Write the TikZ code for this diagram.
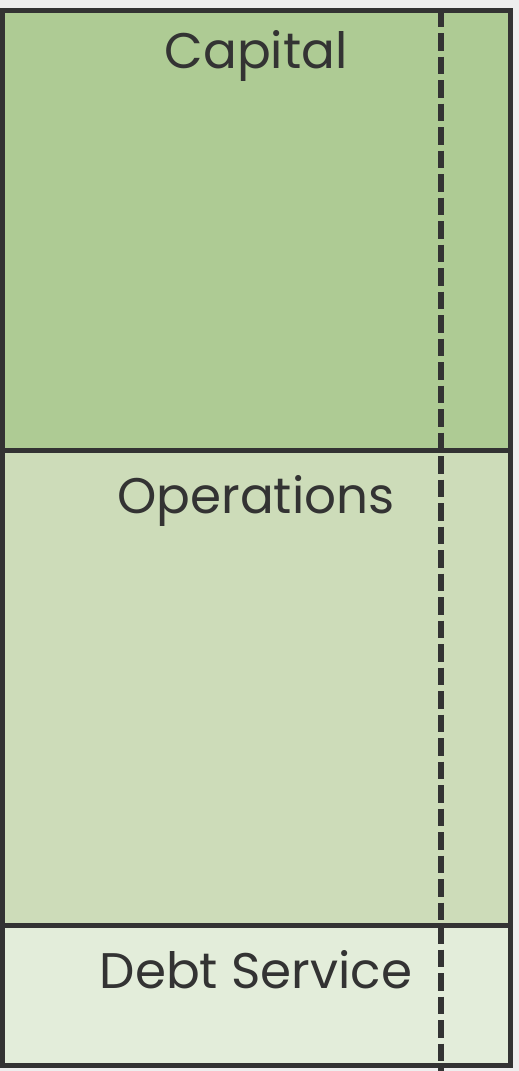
\documentclass[tikz,border=0pt]{standalone}
\usepackage{fontspec}
\setmainfont{Poppins}
\begin{document}
\begin{tikzpicture}[x=1pt,y=-1pt,
  box/.style={draw=edge,line width=5pt},
  lbl/.style={text=txt,font=\fontsize{50}{60}\selectfont,anchor=base,inner sep=0pt},
  divider/.style={draw=edge,line width=5.5pt,dash pattern=on 17.5pt off 6pt}]
\definecolor{edge}{HTML}{333333}
\definecolor{txt}{HTML}{333333}
\definecolor{capc}{HTML}{AECB94}
\definecolor{opc}{HTML}{CDDCB9}
\definecolor{debc}{HTML}{E3EDDA}
\definecolor{bgc}{HTML}{EEEEEE}
\fill[bgc] (0,0) rectangle (519,1071);
\useasboundingbox (0,0) rectangle (519,1071);
\coordinate (tl) at (2,10);
\coordinate (capbr) at (510.5,450);
\coordinate (opbr) at (510.5,925);
\coordinate (opl) at (2,450);
\coordinate (debl) at (2,925);
\coordinate (br) at (510.5,1065);
\fill[capc] (tl) rectangle (capbr);
\fill[opc] (opl) rectangle (opbr);
\fill[debc] (debl) rectangle (br);
\coordinate (dtop) at (441,9.5);
\coordinate (dbot) at (441,1071);
\draw[divider] (dtop) -- (dbot);
\draw[box] (tl) rectangle (br);
\draw[box] (opl) -- (capbr);
\draw[box] (debl) -- (opbr);
\node[lbl] (cap) at (256,68) {Capital};
\node[lbl] (ops) at (256,513) {Operations};
\node[lbl] (deb) at (256,988) {Debt Service};
\end{tikzpicture}
\end{document}
